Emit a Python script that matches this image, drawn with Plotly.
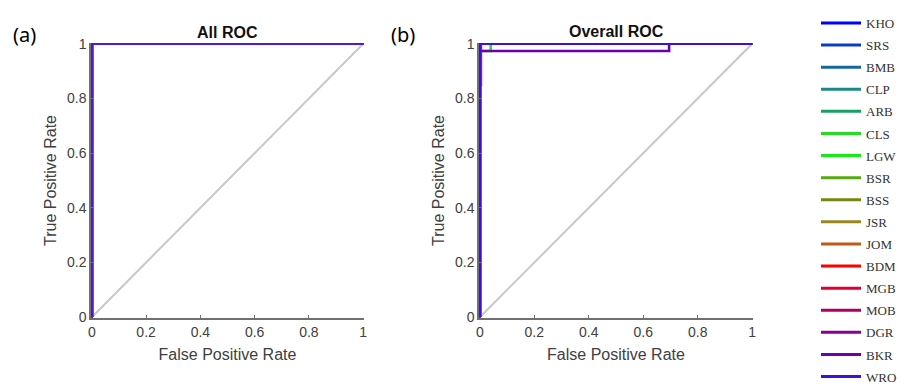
import plotly.graph_objects as go

# ---------------- data ----------------
classes = ["KHO", "SRS", "BMB", "CLP", "ARB", "CLS", "LGW", "BSR", "BSS",
           "JSR", "JOM", "BDM", "MGB", "MOB", "DGR", "BKR", "WRO"]
colors = ["#0000ff", "#0a3cc8", "#16689c", "#188a88", "#16a060", "#22dd22",
          "#11ee11", "#55aa11", "#778811", "#998822", "#c05818", "#ff0000",
          "#dd0030", "#aa0066", "#880099", "#6a00b0", "#3c10e0"]

# (a) All ROC: every class reaches a perfect curve
all_fpr = [0, 0, 1]
all_tpr = [0, 1, 1]

# (b) Overall ROC, per class (fpr, tpr)
perfect_fpr = [0, 0, 1]
perfect_tpr = [0, 1, 1]
roc_fpr = {c: perfect_fpr for c in classes}
roc_tpr = {c: perfect_tpr for c in classes}
roc_fpr["BDM"] = [0, 0, 0.004, 0.004, 1]
roc_tpr["BDM"] = [0, 0.85, 0.85, 1, 1]
roc_fpr["LGW"] = [0, 0, 0.04, 0.04, 1]
roc_tpr["LGW"] = [0, 0.974, 0.974, 1, 1]
roc_fpr["BKR"] = [0, 0, 0.695, 0.695, 1]
roc_tpr["BKR"] = [0, 0.974, 0.974, 1, 1]

diag = [0, 1]
ticks = [0, 0.2, 0.4, 0.6, 0.8, 1]
tick_text = ["0", "0.2", "0.4", "0.6", "0.8", "1"]

# drawing order in (b): perfect curves first, then imperfect ones, WRO on top
order_b = [c for c in classes if c not in ("LGW", "BDM", "BKR", "WRO")] + ["BDM", "LGW", "BKR", "WRO"]

fig = go.Figure()

# diagonal reference lines
for xa, ya in (("x", "y"), ("x2", "y2")):
    fig.add_trace(go.Scatter(x=diag, y=diag, mode="lines", xaxis=xa, yaxis=ya,
                             line=dict(color="#c8c8c8", width=2), showlegend=False,
                             hoverinfo="skip"))

# (a)
for c, col in zip(classes, colors):
    fig.add_trace(go.Scatter(x=all_fpr, y=all_tpr, mode="lines", xaxis="x", yaxis="y",
                             line=dict(color="#5018d8" if c == "WRO" else col, width=2.6),
                             showlegend=False, name=c))

# (b)
col_of = dict(zip(classes, colors))
for c in order_b:
    fig.add_trace(go.Scatter(x=roc_fpr[c], y=roc_tpr[c], mode="lines", xaxis="x2", yaxis="y2",
                             line=dict(color=col_of[c], width=2.6), showlegend=False, name=c))

# legend entries (in class order)
for i, (c, col) in enumerate(zip(classes, colors)):
    fig.add_trace(go.Scatter(x=[None], y=[None], mode="lines", xaxis="x2", yaxis="y2",
                             line=dict(color=col, width=3), name=c, legendgroup=c,
                             legendrank=i + 1, showlegend=True))

# the page body has an 8px margin, so the figure is drawn from (8, 8);
# the figure is made a bit taller than the window so the legend never scrolls
OFF = 8
W, H = 915 - OFF, 420
def px(x):
    return (x - OFF) / W
def py(y):
    return (H - (y - OFF)) / H

axis_common = dict(
    range=[-0.003, 1.003], tickvals=ticks, ticktext=tick_text, ticks="inside",
    ticklen=3, tickwidth=1, tickcolor="#707070", showline=True, linecolor="#707070",
    linewidth=1.5, mirror=False, showgrid=False, zeroline=False, automargin=False,
    tickfont=dict(family="Liberation Sans, Arial", size=14, color="#404040"),
    fixedrange=True,
)
title_font = dict(family="Liberation Sans, Arial", size=16, color="#404040")

fig.update_layout(
    width=W, height=H, margin=dict(l=0, r=0, t=0, b=0, autoexpand=False),
    paper_bgcolor="white", plot_bgcolor="white",
    xaxis=dict(domain=[px(91), px(364)], anchor="y",
               title=dict(text="False Positive Rate", standoff=10, font=title_font),
               **axis_common),
    yaxis=dict(domain=[py(318), py(43)], anchor="x",
               title=dict(text="True Positive Rate", standoff=6, font=title_font),
               **axis_common),
    xaxis2=dict(domain=[px(479), px(753)], anchor="y2",
                title=dict(text="False Positive Rate", standoff=10, font=title_font),
                **axis_common),
    yaxis2=dict(domain=[py(318), py(43)], anchor="x2",
                title=dict(text="True Positive Rate", standoff=6, font=title_font),
                **axis_common),
    legend=dict(x=px(816), y=1, xanchor="left", yanchor="top",
                font=dict(family="Liberation Serif, Times New Roman", size=13, color="#333333"),
                tracegroupgap=2.2, bgcolor="rgba(0,0,0,0)", itemwidth=40),
    showlegend=True,
    annotations=[
        dict(text="<b>All ROC</b>", x=px(227.5), y=py(32), xref="paper", yref="paper",
             xanchor="center", yanchor="middle",
             showarrow=False, font=dict(family="Liberation Sans, Arial", size=16, color="#111111")),
        dict(text="<b>Overall ROC</b>", x=px(616), y=py(31), xref="paper", yref="paper",
             xanchor="center", yanchor="middle",
             showarrow=False, font=dict(family="Liberation Sans, Arial", size=16, color="#111111")),
        dict(text="(a)", x=px(24), y=py(34), xref="paper", yref="paper",
             xanchor="center", yanchor="middle",
             showarrow=False, font=dict(family="Noto Sans", size=20, color="#000000")),
        dict(text="(b)", x=px(403), y=py(34), xref="paper", yref="paper",
             xanchor="center", yanchor="middle",
             showarrow=False, font=dict(family="Noto Sans", size=20, color="#000000")),
    ],
)

fig.write_html("out.html")
